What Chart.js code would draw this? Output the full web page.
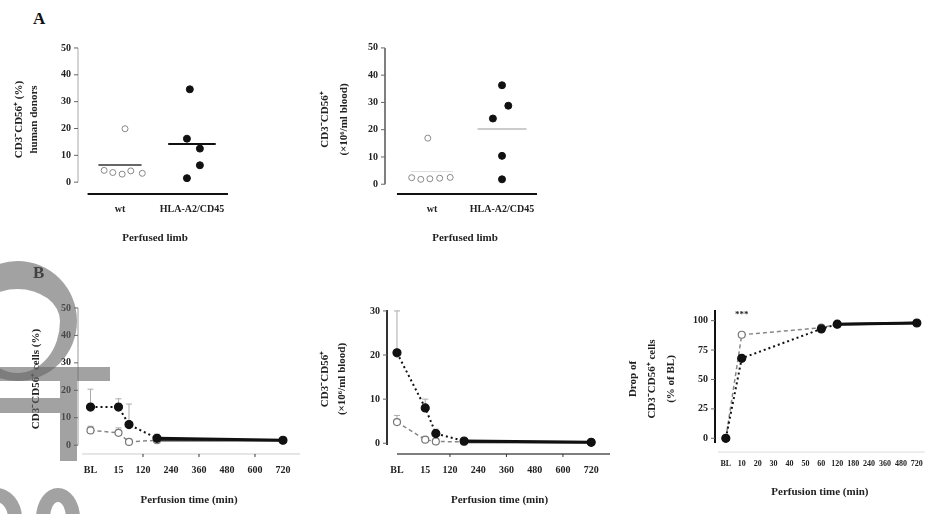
<!DOCTYPE html>
<html><head><meta charset="utf-8">
<script src="https://cdn.jsdelivr.net/npm/chart.js@4.4.1/dist/chart.umd.min.js"></script>
<style>
html,body{margin:0;padding:0;background:#fff;}
body{width:930px;height:514px;position:relative;overflow:hidden;}
canvas{position:absolute;}
.lbl{position:absolute;font:bold 17px 'Liberation Serif',serif;color:#111;z-index:2;}
.wm{position:absolute;background:rgba(100,100,100,0.6);z-index:3;}
.wr{position:absolute;border:solid rgba(100,100,100,0.6);border-radius:50%;z-index:3;box-sizing:border-box;}
</style></head><body>
<div class="lbl" style="left:33px;top:9px">A</div>
<div class="lbl" style="left:33px;top:263px">B</div>
<canvas id="a1"></canvas>
<canvas id="a2"></canvas>
<canvas id="b1"></canvas>
<canvas id="b2"></canvas>
<canvas id="b3"></canvas>
<!-- grey watermark shapes at the left edge -->
<div class="wr" style="left:-42px;top:261px;width:119px;height:120px;border-width:28px 17px 8px 17px;"></div>
<div class="wm" style="left:0;top:367px;width:110px;height:14px;"></div>
<div class="wm" style="left:60px;top:381px;width:17px;height:80px;"></div>
<div class="wm" style="left:0;top:398px;width:60px;height:15px;"></div>
<div class="wr" style="left:-30px;top:488px;width:52px;height:60px;border-width:14px;"></div>
<div class="wr" style="left:36px;top:488px;width:44px;height:60px;border-width:14px;"></div>
<script>
// ---------------- data ----------------
const catsA = ['wt', 'HLA-A2/CD45'];
const yTicksA = [0, 10, 20, 30, 40, 50];
const a1Wt = [19.9, 4.4, 3.6, 3.0, 4.2, 3.3];
const a1Hla = [34.6, 16.2, 12.5, 6.3, 1.5];
const a2Wt = [16.9, 2.4, 1.8, 2.0, 2.2, 2.5];
const a2Hla = [36.3, 28.8, 24.1, 10.4, 1.8];

const timesB = ['BL', 15, 60, 180, 720];
const xTicksB = ['BL', 15, 120, 240, 360, 480, 600, 720];
const yTicksB1 = [0, 10, 20, 30, 40, 50];
const b1Filled = [13.9, 13.9, 7.5, 2.5, 1.8];
const b1FilledErr = [6.5, 3, 7.5, 1.5, 0.5];
const b1Open = [5.4, 4.5, 1.2, 1.8, 1.8];
const b1OpenErr = [1.5, 1.8, 1, 0.5, 0.3];
const yTicksB2 = [0, 10, 20, 30];
const b2Filled = [20.5, 8.0, 2.2, 0.5, 0.2];
const b2FilledErr = [9.5, 2, 1, 0.5, 0.2];
const b2Open = [4.8, 0.8, 0.4, 0.3, 0.2];
const b2OpenErr = [1.5, 0.5, 0.3, 0.2, 0.1];

const catsB3 = ['BL','10','20','30','40','50','60','120','180','240','360','480','720'];
const timesB3 = ['BL','10','60','120','720'];
const yTicksB3 = [0, 25, 50, 75, 100];
const b3Filled = [0, 68, 93, 97, 98];
const b3Open = [0, 88, 94, 97, 98];

// ---------------- layout / style ----------------
const BL_AT = -105;                       // where the baseline column sits on the time axis
const toX = t => (t === 'BL' ? BL_AT : t);
const jitA1Wt = [0.07, -0.22, -0.10, 0.03, 0.15, 0.31];
const jitA1Hla = [-0.03, -0.07, 0.11, 0.11, -0.07];
const jitA2Wt = [-0.06, -0.29, -0.16, -0.03, 0.11, 0.26];
const jitA2Hla = [0, 0.09, -0.13, 0, 0];
const FAM = "'Liberation Serif', serif";
const tickFont = {family: FAM, size: 10, weight: 'bold'};
const INK = '#222';
const mean = a => a.reduce((s, v) => s + v, 0) / a.length;

const prismAxes = {
  id: 'prismAxes',
  beforeDatasetsDraw(chart, args, o) {
    if (!o) return;
    const {ctx, scales: {x, y}, chartArea} = chart;
    ctx.save();
    if (o.y) {
      const px = chartArea.left;
      ctx.strokeStyle = o.y.color; ctx.lineWidth = o.y.width;
      ctx.beginPath(); ctx.moveTo(px, y.getPixelForValue(o.y.from)); ctx.lineTo(px, y.getPixelForValue(o.y.to)); ctx.stroke();
      ctx.lineWidth = 1; ctx.strokeStyle = '#666';
      y.ticks.forEach(t => { const py = y.getPixelForValue(t.value); ctx.beginPath(); ctx.moveTo(px - 4, py); ctx.lineTo(px, py); ctx.stroke(); });
    }
    if (o.x) {
      const py = y.getPixelForValue(o.x.at);
      ctx.strokeStyle = o.x.color; ctx.lineWidth = o.x.width;
      ctx.beginPath(); ctx.moveTo(x.getPixelForValue(o.x.from), py); ctx.lineTo(x.getPixelForValue(o.x.to), py); ctx.stroke();
      ctx.lineWidth = 1; ctx.strokeStyle = '#333';
      (o.x.marks || []).forEach(v => { const p = x.getPixelForValue(v); ctx.beginPath(); ctx.moveTo(p, py); ctx.lineTo(p, py + 3); ctx.stroke(); });
    }
    // upward error bars
    chart.data.datasets.forEach((ds, i) => {
      if (!ds.errUp) return;
      const meta = chart.getDatasetMeta(i);
      ctx.strokeStyle = ds.errColor || '#999'; ctx.lineWidth = 1;
      meta.data.forEach((pt, j) => {
        const e = ds.errUp[j]; if (!e) return;
        const top = y.getPixelForValue(ds.data[j].y + e);
        ctx.beginPath(); ctx.moveTo(pt.x, pt.y); ctx.lineTo(pt.x, top);
        ctx.moveTo(pt.x - 3, top); ctx.lineTo(pt.x + 3, top); ctx.stroke();
      });
    });
    ctx.restore();
  },
  afterDatasetsDraw(chart, args, o) {
    if (!o || !o.note) return;
    const {ctx, scales: {x, y}} = chart;
    ctx.save();
    ctx.font = 'bold 9px ' + FAM; ctx.fillStyle = INK; ctx.textAlign = 'center'; ctx.textBaseline = 'middle';
    ctx.fillText(o.note.text, x.getPixelForValue(o.note.x), y.getPixelForValue(o.note.y));
    ctx.restore();
  }
};
Chart.register(prismAxes);

function build(id, box, o, datasets) {
  const c = document.getElementById(id);
  c.width = box.w; c.height = box.h;
  c.style.left = box.x + 'px'; c.style.top = box.y + 'px';
  c.style.width = box.w + 'px'; c.style.height = box.h + 'px';
  return new Chart(c, {
    type: 'scatter',
    data: {datasets},
    options: {
      responsive: false, animation: false, devicePixelRatio: 1,
      layout: {padding: {left: 0, right: o.padR, top: o.padT, bottom: 0}},
      plugins: {legend: {display: false}, tooltip: {enabled: false}, prismAxes: o.axes},
      scales: {
        x: {
          type: 'linear', min: o.xmin, max: o.xmax,
          grid: {display: false, drawTicks: false}, border: {display: false},
          afterFit: s => { s.height = o.xh; },
          afterBuildTicks: s => { s.ticks = o.xticks.map(v => ({value: v})); },
          ticks: {autoSkip: false, maxRotation: 0, padding: o.xpad, font: o.xfont || tickFont, color: INK, callback: o.xlab},
          title: {display: true, text: o.xtitle, font: {family: FAM, size: 11, weight: 'bold', lineHeight: '13px'}, color: INK, padding: 0}
        },
        y: {
          type: 'linear', min: o.ymin, max: o.ymax,
          grid: {display: false, drawTicks: false}, border: {display: false},
          afterFit: s => { s.width = o.yw; },
          afterBuildTicks: s => { s.ticks = o.yticks.map(v => ({value: v})); },
          ticks: {autoSkip: false, padding: o.ypad, font: tickFont, color: INK},
          title: {display: true, text: o.ytitle, font: {family: FAM, size: 11, weight: 'bold', lineHeight: o.ylh}, color: INK, padding: 0}
        }
      }
    }
  });
}

function dots(vals, cx, jit, fill, stroke, r) {
  return {data: vals.map((v, i) => ({x: cx + jit[i], y: v})), showLine: false, pointRadius: r,
    backgroundColor: fill, borderColor: stroke, borderWidth: 1, clip: false};
}
function meanLine(vals, cx, half, color, w) {
  const m = mean(vals);
  return {data: [{x: cx - half, y: m}, {x: cx + half, y: m}], showLine: true, pointRadius: 0,
    borderColor: color, borderWidth: w, clip: false};
}
function series(xs, vals, err, o) {
  const n = vals.length;
  return {data: vals.map((v, i) => ({x: xs[i], y: v})), showLine: true, errUp: err, errColor: '#aaa',
    pointRadius: o.r, backgroundColor: o.fill, borderColor: o.line, pointBorderColor: o.stroke,
    pointBorderWidth: 1.2, borderWidth: o.w, clip: false,
    segment: {borderDash: c => (c.p1DataIndex === n - 1 ? [] : o.dash),
              borderWidth: c => (c.p1DataIndex === n - 1 ? o.wLast : o.w),
              borderColor: c => (c.p1DataIndex === n - 1 ? o.lastColor : o.line)}};
}

// ---------------- panel A ----------------
const catLab = v => catsA[Math.round(v) - 1];
build('a1', {x: 12, y: 30, w: 238, h: 215}, {
  padR: 18, padT: 11, xh: 49, yw: 66, xpad: 7, ypad: 7,
  xmin: 0.4167, xmax: 2.556, ymin: -5.15, ymax: 51.85,
  xticks: [1, 2], yticks: yTicksA, xlab: catLab,
  xtitle: 'Perfused limb', ytitle: ['CD3\u207BCD56\u207A (%)', 'human donors'], ylh: '15px',
  axes: {y: {from: 0, to: 50, color: '#aaa', width: 1}, x: {at: -4.4, from: 0.55, to: 2.5, color: '#111', width: 2}}
}, [
  dots(a1Hla, 2, jitA1Hla, '#111', '#111', 3.5),
  dots(a1Wt, 1, jitA1Wt, '#fff', '#888', 3),
  meanLine(a1Hla, 2, 0.33, '#111', 2),
  meanLine(a1Wt, 1, 0.3, '#333', 1.5)
]);

build('a2', {x: 316, y: 30, w: 244, h: 215}, {
  padR: 15, padT: 10, xh: 49, yw: 69, xpad: 7, ypad: 7,
  xmin: 0.329, xmax: 2.614, ymin: -4.32, ymax: 51.8,
  xticks: [1, 2], yticks: yTicksA, xlab: catLab,
  xtitle: 'Perfused limb', ytitle: ['CD3\u207BCD56\u207A', '(\u00D710\u2076/ml blood)'], ylh: '19px',
  axes: {y: {from: 0, to: 50, color: '#555', width: 1.5}, x: {at: -3.6, from: 0.5, to: 2.5, color: '#111', width: 2}}
}, [
  dots(a2Hla, 2, jitA2Hla, '#111', '#111', 3.5),
  dots(a2Wt, 1, jitA2Wt, '#fff', '#888', 3),
  meanLine(a2Hla, 2, 0.35, '#bbb', 1.5),
  meanLine(a2Wt, 1, 0.3, '#ddd', 1)
]);

// ---------------- panel B ----------------
const bX = timesB.map(toX);
const bLab = v => (v === BL_AT ? 'BL' : String(v));
const filledStyle = {r: 4, fill: '#111', stroke: '#111', line: '#111', w: 2, wLast: 3, dash: [2, 3], lastColor: '#111'};
const openStyle = {r: 3.5, fill: '#fff', stroke: '#777', line: '#888', w: 1.5, wLast: 2.5, dash: [4, 3], lastColor: '#333'};

build('b1', {x: 30, y: 290, w: 282, h: 217}, {
  padR: 12, padT: 10, xh: 52, yw: 48, xpad: 9, ypad: 7,
  xmin: -158.6, xmax: 793, ymin: -3.57, ymax: 51.8,
  xticks: xTicksB.map(toX), yticks: yTicksB1, xlab: bLab,
  xtitle: 'Perfusion time (min)', ytitle: 'CD3\u207BCD56\u207A cells (%)', ylh: '13px',
  axes: {y: {from: 0, to: 50, color: '#999', width: 1}, x: {at: -3.2, from: -141, to: 793, color: '#ccc', width: 1, marks: [120, 360, 600]}}
}, [
  series(bX, b1Filled, b1FilledErr, filledStyle),
  series(bX, b1Open, b1OpenErr, openStyle)
]);

build('b2', {x: 317, y: 290, w: 307, h: 217}, {
  padR: 12, padT: 10, xh: 52, yw: 70, xpad: 9, ypad: 7,
  xmin: -147.4, xmax: 808.4, ymin: -2.67, ymax: 31.8,
  xticks: xTicksB.map(toX), yticks: yTicksB2, xlab: bLab,
  xtitle: 'Perfusion time (min)', ytitle: ['CD3\u207BCD56\u207A', '(\u00D710\u2076/ml blood)'], ylh: '17px',
  axes: {y: {from: -0.4, to: 30.2, color: '#333', width: 2}, x: {at: -2.44, from: -105, to: 800, color: '#555', width: 1.5, marks: [120, 360, 600]}}
}, [
  series(bX, b2Filled, b2FilledErr, filledStyle),
  series(bX, b2Open, b2OpenErr, openStyle)
]);

const b3X = timesB3.map(t => catsB3.indexOf(t));
build('b3', {x: 624, y: 290, w: 306, h: 209}, {
  padR: 2, padT: 10, xh: 44, yw: 91, xpad: 4, ypad: 7,
  xmin: -0.68, xmax: 12.5, ymin: -14.2, ymax: 115,
  xticks: catsB3.map((c, i) => i), yticks: yTicksB3, xlab: v => catsB3[Math.round(v)],
  xfont: {family: FAM, size: 8, weight: 'bold'},
  xtitle: 'Perfusion time (min)', ytitle: ['Drop of', 'CD3\u207BCD56\u207A cells', '(% of BL)'], ylh: '19px',
  axes: {y: {from: -4, to: 109, color: '#111', width: 2}, x: {at: -11.7, from: -0.5, to: 12.5, color: '#ddd', width: 1},
         note: {text: '***', x: catsB3.indexOf('10'), y: 105}}
}, [
  series(b3X, b3Filled, null, filledStyle),
  series(b3X, b3Open, null, openStyle)
]);
</script>
</body></html>
